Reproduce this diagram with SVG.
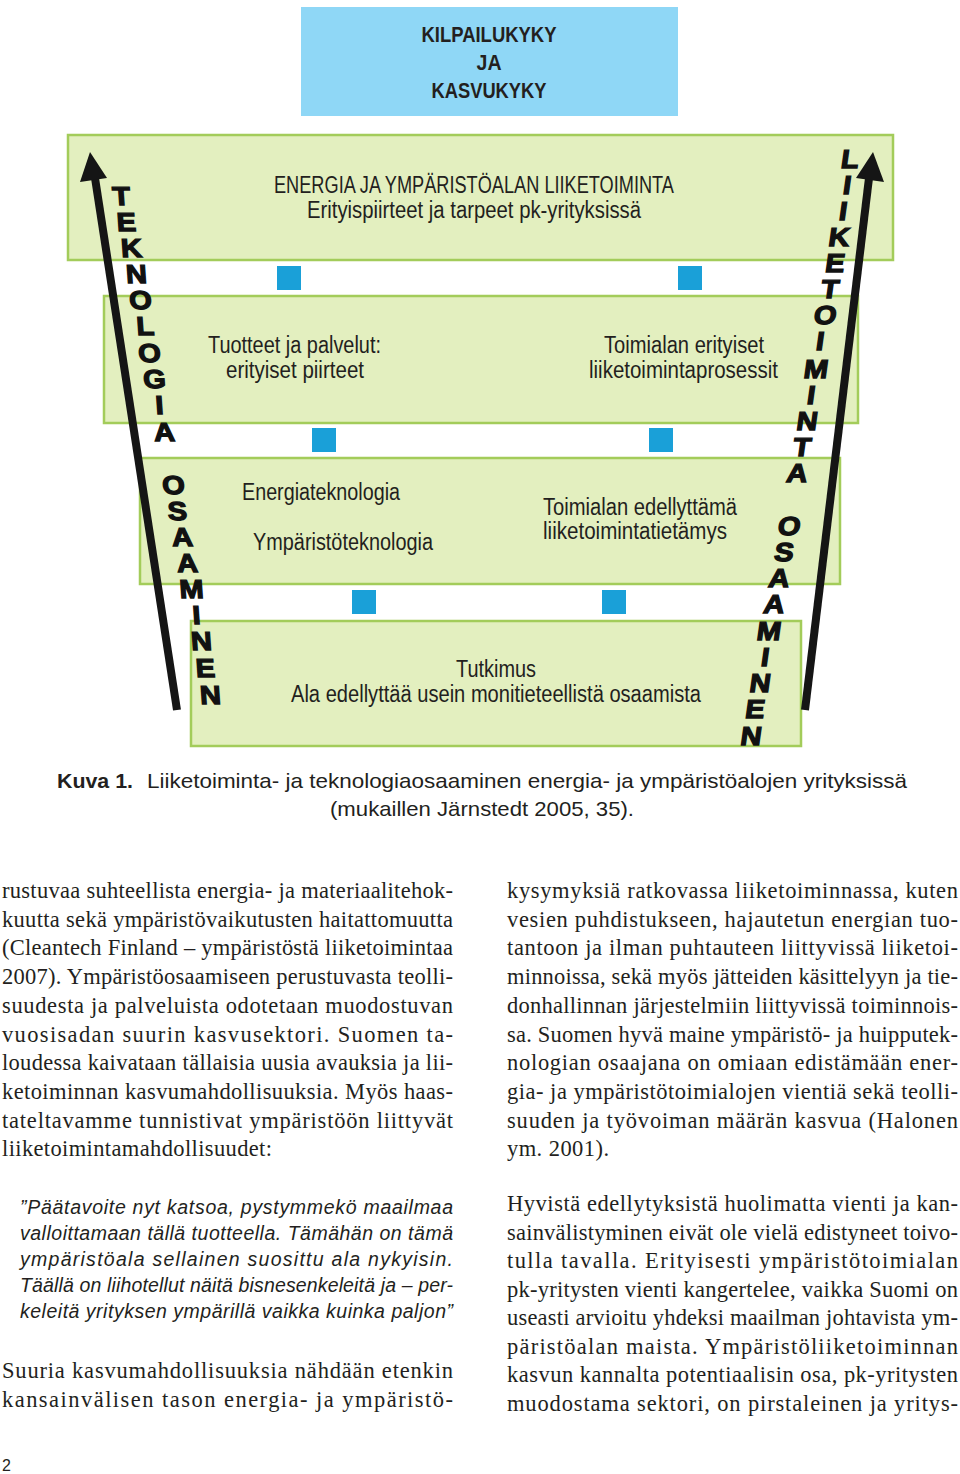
<svg xmlns="http://www.w3.org/2000/svg" width="960" height="1474" viewBox="0 0 960 1474">
<style>
.box{fill:#e3efbf;stroke:#a3cc5a;stroke-width:2.5}
.top{fill:#8fd7f6}
.sq{fill:#1aa0d8}
.lbl{font-family:"Liberation Sans Narrow","Liberation Sans",Arial,sans-serif;font-size:23px;fill:#231f20}
.hd{font-family:"Liberation Sans Narrow","Liberation Sans",Arial,sans-serif;font-size:22px;font-weight:bold;fill:#231f20}
.ltr{font-family:"Liberation Sans",Arial,sans-serif;font-size:26px;font-weight:900;fill:#111;stroke:#111;stroke-width:1.3;text-anchor:middle}
.cap{font-family:"Liberation Sans",Arial,sans-serif;font-size:21px;fill:#231f20}
.body{font-family:"Liberation Serif","Times New Roman",serif;font-size:22.5px;fill:#231f20}
.quote{font-family:"Liberation Sans",Arial,sans-serif;font-size:19.5px;font-style:italic;fill:#231f20}
.shaft{stroke:#151515;stroke-width:8;fill:none}
.head{fill:#151515}
</style>
<rect width="960" height="1474" fill="#ffffff"/>

<g id="node-top">
<rect class="top" x="301" y="7" width="377" height="109"/>
<text class="hd" x="489" y="42" text-anchor="middle" textLength="135" lengthAdjust="spacingAndGlyphs">KILPAILUKYKY</text>
<text class="hd" x="489" y="70" text-anchor="middle" textLength="25" lengthAdjust="spacingAndGlyphs">JA</text>
<text class="hd" x="489" y="98" text-anchor="middle" textLength="115" lengthAdjust="spacingAndGlyphs">KASVUKYKY</text>
</g>

<g id="node-level1">
<rect class="box" x="68" y="135" width="825" height="125"/>
<text class="lbl" x="274" y="193" textLength="400" lengthAdjust="spacingAndGlyphs">ENERGIA JA YMPÄRISTÖALAN LIIKETOIMINTA</text>
<text class="lbl" x="307" y="218" textLength="334" lengthAdjust="spacingAndGlyphs">Erityispiirteet ja tarpeet pk-yrityksissä</text>
</g>

<g id="node-level2">
<rect class="box" x="104" y="296" width="754" height="127"/>
<text class="lbl" x="208" y="353" textLength="173" lengthAdjust="spacingAndGlyphs">Tuotteet ja palvelut:</text>
<text class="lbl" x="226" y="378" textLength="138" lengthAdjust="spacingAndGlyphs">erityiset piirteet</text>
<text class="lbl" x="604" y="353" textLength="160" lengthAdjust="spacingAndGlyphs">Toimialan erityiset</text>
<text class="lbl" x="589" y="378" textLength="189" lengthAdjust="spacingAndGlyphs">liiketoimintaprosessit</text>
</g>

<g id="node-level3">
<rect class="box" x="140" y="458" width="700" height="126"/>
<text class="lbl" x="242" y="500" textLength="158" lengthAdjust="spacingAndGlyphs">Energiateknologia</text>
<text class="lbl" x="253" y="550" textLength="180" lengthAdjust="spacingAndGlyphs">Ympäristöteknologia</text>
<text class="lbl" x="543" y="515" textLength="194" lengthAdjust="spacingAndGlyphs">Toimialan edellyttämä</text>
<text class="lbl" x="543" y="539" textLength="184" lengthAdjust="spacingAndGlyphs">liiketoimintatietämys</text>
</g>

<g id="node-level4">
<rect class="box" x="191" y="621" width="610" height="125"/>
<text class="lbl" x="456" y="677" textLength="80" lengthAdjust="spacingAndGlyphs">Tutkimus</text>
<text class="lbl" x="291" y="702" textLength="410" lengthAdjust="spacingAndGlyphs">Ala edellyttää usein monitieteellistä osaamista</text>
</g>

<g id="squares">
<rect class="sq" x="277" y="266" width="24" height="24"/>
<rect class="sq" x="678" y="266" width="24" height="24"/>
<rect class="sq" x="312" y="428" width="24" height="24"/>
<rect class="sq" x="649" y="428" width="24" height="24"/>
<rect class="sq" x="352" y="590" width="24" height="24"/>
<rect class="sq" x="602" y="590" width="24" height="24"/>
</g>

<g id="connectors">
<line class="shaft" x1="95" y1="178" x2="177" y2="710"/>
<polygon class="head" points="90,152 80,182 107,178"/>
<line class="shaft" x1="869" y1="178" x2="805" y2="710"/>
<polygon class="head" points="873,152 856,178 884,182"/>
</g>

<g id="label-left">
<text class="ltr" transform="translate(122,205) skewX(4) scale(1.12,1)">T</text>
<text class="ltr" transform="translate(127,231) skewX(4) scale(1.12,1)">E</text>
<text class="ltr" transform="translate(132,257) skewX(4) scale(1.12,1)">K</text>
<text class="ltr" transform="translate(137,283) skewX(4) scale(1.12,1)">N</text>
<text class="ltr" transform="translate(141,309) skewX(4) scale(1.12,1)">O</text>
<text class="ltr" transform="translate(146,335) skewX(4) scale(1.12,1)">L</text>
<text class="ltr" transform="translate(150,362) skewX(4) scale(1.12,1)">O</text>
<text class="ltr" transform="translate(155,388) skewX(4) scale(1.12,1)">G</text>
<text class="ltr" transform="translate(160,414) skewX(4) scale(1.12,1)">I</text>
<text class="ltr" transform="translate(165,441) skewX(4) scale(1.12,1)">A</text>
<text class="ltr" transform="translate(174,494) skewX(4) scale(1.12,1)">O</text>
<text class="ltr" transform="translate(178,520) skewX(4) scale(1.12,1)">S</text>
<text class="ltr" transform="translate(183,546) skewX(4) scale(1.12,1)">A</text>
<text class="ltr" transform="translate(188,572) skewX(4) scale(1.12,1)">A</text>
<text class="ltr" transform="translate(192,598) skewX(4) scale(1.12,1)">M</text>
<text class="ltr" transform="translate(197,624) skewX(4) scale(1.12,1)">I</text>
<text class="ltr" transform="translate(202,650) skewX(4) scale(1.12,1)">N</text>
<text class="ltr" transform="translate(206,677) skewX(4) scale(1.12,1)">E</text>
<text class="ltr" transform="translate(211,704) skewX(4) scale(1.12,1)">N</text>
</g>

<g id="label-right">
<text class="ltr" transform="translate(849,168) skewX(-8) scale(1.12,1)">L</text>
<text class="ltr" transform="translate(846,194) skewX(-8) scale(1.12,1)">I</text>
<text class="ltr" transform="translate(842,220) skewX(-8) scale(1.12,1)">I</text>
<text class="ltr" transform="translate(838,246) skewX(-8) scale(1.12,1)">K</text>
<text class="ltr" transform="translate(834,272) skewX(-8) scale(1.12,1)">E</text>
<text class="ltr" transform="translate(829,298) skewX(-8) scale(1.12,1)">T</text>
<text class="ltr" transform="translate(824,324) skewX(-8) scale(1.12,1)">O</text>
<text class="ltr" transform="translate(819,350) skewX(-8) scale(1.12,1)">I</text>
<text class="ltr" transform="translate(815,378) skewX(-8) scale(1.12,1)">M</text>
<text class="ltr" transform="translate(810,404) skewX(-8) scale(1.12,1)">I</text>
<text class="ltr" transform="translate(806,430) skewX(-8) scale(1.12,1)">N</text>
<text class="ltr" transform="translate(801,456) skewX(-8) scale(1.12,1)">T</text>
<text class="ltr" transform="translate(796,482) skewX(-8) scale(1.12,1)">A</text>
<text class="ltr" transform="translate(788,535) skewX(-8) scale(1.12,1)">O</text>
<text class="ltr" transform="translate(783,561) skewX(-8) scale(1.12,1)">S</text>
<text class="ltr" transform="translate(778,587) skewX(-8) scale(1.12,1)">A</text>
<text class="ltr" transform="translate(773,613) skewX(-8) scale(1.12,1)">A</text>
<text class="ltr" transform="translate(768,640) skewX(-8) scale(1.12,1)">M</text>
<text class="ltr" transform="translate(764,666) skewX(-8) scale(1.12,1)">I</text>
<text class="ltr" transform="translate(759,692) skewX(-8) scale(1.12,1)">N</text>
<text class="ltr" transform="translate(754,718) skewX(-8) scale(1.12,1)">E</text>
<text class="ltr" transform="translate(750,745) skewX(-8) scale(1.12,1)">N</text>
</g>

<g id="caption">
<text class="cap" x="57" y="788" font-weight="bold" textLength="76" lengthAdjust="spacingAndGlyphs">Kuva 1.</text>
<text class="cap" x="147" y="788" textLength="760" lengthAdjust="spacingAndGlyphs">Liiketoiminta- ja teknologiaosaaminen energia- ja ympäristöalojen yrityksissä</text>
<text class="cap" x="330" y="816" textLength="304" lengthAdjust="spacingAndGlyphs">(mukaillen Järnstedt 2005, 35).</text>
</g>

<g id="body-left">
<text class="body" x="2" y="898" textLength="451" lengthAdjust="spacing">rustuvaa suhteellista energia- ja materiaalitehok-</text>
<text class="body" x="2" y="926.7" textLength="451" lengthAdjust="spacing">kuutta sekä ympäristövaikutusten haitattomuutta</text>
<text class="body" x="2" y="955.4" textLength="451" lengthAdjust="spacing">(Cleantech Finland – ympäristöstä liiketoimintaa</text>
<text class="body" x="2" y="984.1" textLength="451" lengthAdjust="spacing">2007). Ympäristöosaamiseen perustuvasta teolli-</text>
<text class="body" x="2" y="1012.8" textLength="451" lengthAdjust="spacing">suudesta ja palveluista odotetaan muodostuvan</text>
<text class="body" x="2" y="1041.5" textLength="451" lengthAdjust="spacing">vuosisadan suurin kasvusektori. Suomen ta-</text>
<text class="body" x="2" y="1070.2" textLength="451" lengthAdjust="spacing">loudessa kaivataan tällaisia uusia avauksia ja lii-</text>
<text class="body" x="2" y="1098.9" textLength="451" lengthAdjust="spacing">ketoiminnan kasvumahdollisuuksia. Myös haas-</text>
<text class="body" x="2" y="1127.6" textLength="451" lengthAdjust="spacing">tateltavamme tunnistivat ympäristöön liittyvät</text>
<text class="body" x="2" y="1156.3" textLength="270" lengthAdjust="spacing">liiketoimintamahdollisuudet:</text>
<text class="quote" x="20" y="1214" textLength="433" lengthAdjust="spacing">”Päätavoite nyt katsoa, pystymmekö maailmaa</text>
<text class="quote" x="20" y="1240" textLength="433" lengthAdjust="spacing">valloittamaan tällä tuotteella. Tämähän on tämä</text>
<text class="quote" x="20" y="1266" textLength="433" lengthAdjust="spacing">ympäristöala sellainen suosittu ala nykyisin.</text>
<text class="quote" x="20" y="1292" textLength="433" lengthAdjust="spacing">Täällä on liihotellut näitä bisnesenkeleitä ja – per-</text>
<text class="quote" x="20" y="1318" textLength="433" lengthAdjust="spacing">keleitä yrityksen ympärillä vaikka kuinka paljon”</text>
<text class="body" x="2" y="1378" textLength="451" lengthAdjust="spacing">Suuria kasvumahdollisuuksia nähdään etenkin</text>
<text class="body" x="2" y="1407" textLength="451" lengthAdjust="spacing">kansainvälisen tason energia- ja ympäristö-</text>
</g>

<g id="body-right">
<text class="body" x="507" y="898" textLength="451" lengthAdjust="spacing">kysymyksiä ratkovassa liiketoiminnassa, kuten</text>
<text class="body" x="507" y="926.7" textLength="451" lengthAdjust="spacing">vesien puhdistukseen, hajautetun energian tuo-</text>
<text class="body" x="507" y="955.4" textLength="451" lengthAdjust="spacing">tantoon ja ilman puhtauteen liittyvissä liiketoi-</text>
<text class="body" x="507" y="984.1" textLength="451" lengthAdjust="spacing">minnoissa, sekä myös jätteiden käsittelyyn ja tie-</text>
<text class="body" x="507" y="1012.8" textLength="451" lengthAdjust="spacing">donhallinnan järjestelmiin liittyvissä toiminnois-</text>
<text class="body" x="507" y="1041.5" textLength="451" lengthAdjust="spacing">sa. Suomen hyvä maine ympäristö- ja huipputek-</text>
<text class="body" x="507" y="1070.2" textLength="451" lengthAdjust="spacing">nologian osaajana on omiaan edistämään ener-</text>
<text class="body" x="507" y="1098.9" textLength="451" lengthAdjust="spacing">gia- ja ympäristötoimialojen vientiä sekä teolli-</text>
<text class="body" x="507" y="1127.6" textLength="451" lengthAdjust="spacing">suuden ja työvoiman määrän kasvua (Halonen</text>
<text class="body" x="507" y="1156.3" textLength="102" lengthAdjust="spacing">ym. 2001).</text>
<text class="body" x="507" y="1211" textLength="451" lengthAdjust="spacing">Hyvistä edellytyksistä huolimatta vienti ja kan-</text>
<text class="body" x="507" y="1239.5" textLength="451" lengthAdjust="spacing">sainvälistyminen eivät ole vielä edistyneet toivo-</text>
<text class="body" x="507" y="1268" textLength="451" lengthAdjust="spacing">tulla tavalla. Erityisesti ympäristötoimialan</text>
<text class="body" x="507" y="1296.5" textLength="451" lengthAdjust="spacing">pk-yritysten vienti kangertelee, vaikka Suomi on</text>
<text class="body" x="507" y="1325" textLength="451" lengthAdjust="spacing">useasti arvioitu yhdeksi maailman johtavista ym-</text>
<text class="body" x="507" y="1353.5" textLength="451" lengthAdjust="spacing">päristöalan maista. Ympäristöliiketoiminnan</text>
<text class="body" x="507" y="1382" textLength="451" lengthAdjust="spacing">kasvun kannalta potentiaalisin osa, pk-yritysten</text>
<text class="body" x="507" y="1410.5" textLength="451" lengthAdjust="spacing">muodostama sektori, on pirstaleinen ja yritys-</text>
</g>

<text x="2" y="1471" font-family="'Liberation Sans',Arial,sans-serif" font-size="16" fill="#231f20">2</text>
</svg>
